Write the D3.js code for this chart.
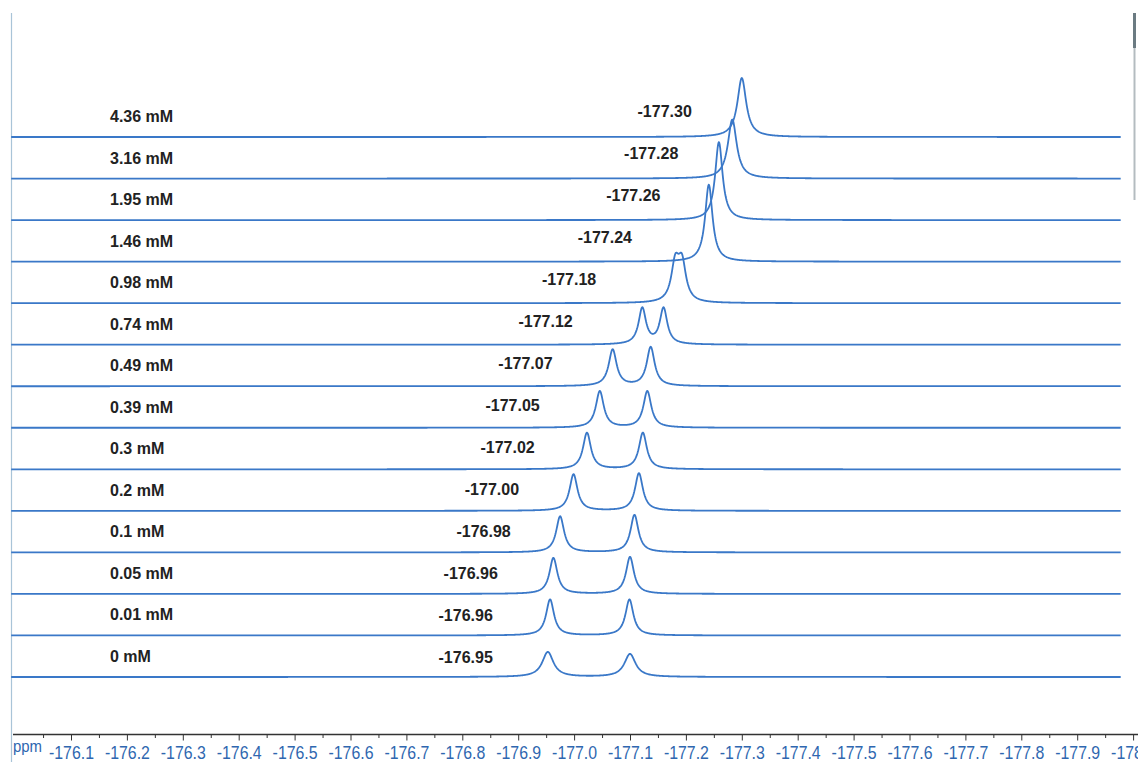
<!DOCTYPE html>
<html>
<head>
<meta charset="utf-8">
<script src="https://cdn.jsdelivr.net/npm/d3@7"></script>
<style>
  html, body { margin: 0; padding: 0; background: #ffffff; }
  svg { display: block; }
</style>
</head>
<body>
<svg id="chart" width="1138" height="762"></svg>
<script>
// ---------------- DATA ----------------
const concentrations = ["4.36 mM","3.16 mM","1.95 mM","1.46 mM","0.98 mM","0.74 mM","0.49 mM","0.39 mM","0.3 mM","0.2 mM","0.1 mM","0.05 mM","0.01 mM","0 mM"];
const shiftLabels    = ["-177.30","-177.28","-177.26","-177.24","-177.18","-177.12","-177.07","-177.05","-177.02","-177.00","-176.98","-176.96","-176.96","-176.95"];
// annotation centre (ppm) of each shift label
const shiftLabelPpm  = [-177.162,-177.138,-177.106,-177.055,-176.991,-176.949,-176.913,-176.890,-176.881,-176.853,-176.838,-176.815,-176.806,-176.806];
// peak 1 (ppm, relative intensity, FWHM ppm)
const peak1Ppm    = [-177.300,-177.283,-177.259,-177.241,-177.181,-177.122,-177.069,-177.046,-177.023,-176.999,-176.975,-176.963,-176.957,-176.953];
const peak1Height = [59, 59, 78, 77, 37, 36, 36.5, 36.5, 36.5, 36.5, 36, 36, 36, 25];
const peak1Width  = [0.019, 0.019, 0.016, 0.016, 0.017, 0.016, 0.017, 0.017, 0.017, 0.017, 0.017, 0.017, 0.017, 0.024];
// peak 2 (null where only one peak is seen)
const peak2Ppm    = [null, null, null, null, -177.193,-177.160,-177.137,-177.131,-177.123,-177.116,-177.108,-177.100,-177.099,-177.100];
const peak2Height = [0, 0, 0, 0, 37, 36, 39, 36.5, 36.5, 37.5, 37.5, 37, 36, 23];
const peak2Width  = [0, 0, 0, 0, 0.017, 0.016, 0.017, 0.017, 0.017, 0.017, 0.017, 0.017, 0.017, 0.024];
// axis ticks
const majorTicks = [-176.1,-176.2,-176.3,-176.4,-176.5,-176.6,-176.7,-176.8,-176.9,-177.0,-177.1,-177.2,-177.3,-177.4,-177.5,-177.6,-177.7,-177.8,-177.9,-178.0];
const minorTicks = [-176.05,-176.15,-176.25,-176.35,-176.45,-176.55,-176.65,-176.75,-176.85,-176.95,-177.05,-177.15,-177.25,-177.35,-177.45,-177.55,-177.65,-177.75,-177.85,-177.95];
const spectrumRange = [-175.993, -177.978];

// ---------------- LAYOUT ----------------
const svg = d3.select("#chart");
const W = 1138, H = 762;
const lineColor = "#3a78c8";
const axisY = 734.5;

const x = d3.scaleLinear().domain([-176.0, -178.0]).range([15.1, 1133.1]);
const baseY = d3.scalePoint().domain(concentrations).range([137, 677]);
const labelY = d3.scalePoint().domain(concentrations).range([117, 663]);
const amp = d3.scaleLinear().domain([0, 100]).range([0, 100]);

function lorentz(ppm, c, h, w) {
  const d = (ppm - c) / (w / 2);
  return h / (1 + d * d);
}

// frame lines
svg.append("line").attr("x1", 11.5).attr("x2", 11.5).attr("y1", 13).attr("y2", H)
  .attr("stroke", "#a9c4d8").attr("stroke-width", 1.2);
svg.append("line").attr("x1", 1134.5).attr("x2", 1134.5).attr("y1", 48).attr("y2", 200)
  .attr("stroke", "#b4bcc0").attr("stroke-width", 2);
svg.append("line").attr("x1", 1134.5).attr("x2", 1134.5).attr("y1", 13).attr("y2", 48)
  .attr("stroke", "#6b7b82").attr("stroke-width", 3);

// spectra
const xs = d3.range(x(spectrumRange[0]), x(spectrumRange[1]) + 0.01, 0.5);
const line = d3.line().x(d => d[0]).y(d => d[1]).curve(d3.curveLinear);

concentrations.forEach((c, i) => {
  const pts = xs.map(px => {
    const ppm = x.invert(px);
    let v = lorentz(ppm, peak1Ppm[i], peak1Height[i], peak1Width[i]);
    if (peak2Ppm[i] !== null) v += lorentz(ppm, peak2Ppm[i], peak2Height[i], peak2Width[i]);
    return [px, baseY(c) - amp(v)];
  });
  svg.append("path").attr("d", line(pts))
    .attr("fill", "none").attr("stroke", lineColor).attr("stroke-width", 1.8)
    .attr("stroke-linejoin", "round");
});

// concentration labels
svg.append("g").selectAll("text").data(concentrations).join("text")
  .attr("x", 110).attr("y", d => baseY(d) - 15)
  .attr("font-family", "Liberation Sans, Arial, sans-serif")
  .attr("font-weight", "bold").attr("font-size", 16).attr("fill", "#222")
  .text(d => d);

// chemical-shift labels
svg.append("g").selectAll("text").data(shiftLabels).join("text")
  .attr("x", (d, i) => x(shiftLabelPpm[i]))
  .attr("y", (d, i) => labelY(concentrations[i]))
  .attr("text-anchor", "middle")
  .attr("font-family", "Liberation Sans, Arial, sans-serif")
  .attr("font-weight", "bold").attr("font-size", 16).attr("fill", "#222")
  .text(d => d);

// axis
const fmt = v => (v < 0 ? "-" : "") + Math.abs(v).toFixed(1);
const gMajor = svg.append("g").attr("transform", `translate(0,${axisY})`)
  .call(d3.axisBottom(x).tickValues(majorTicks).tickFormat(fmt).tickSize(6).tickSizeOuter(0).tickPadding(5));
const gMinor = svg.append("g").attr("transform", `translate(0,${axisY})`)
  .call(d3.axisBottom(x).tickValues(minorTicks).tickFormat("").tickSize(3.5).tickSizeOuter(0));
[gMajor, gMinor].forEach(g => {
  g.select(".domain").remove();
  g.selectAll(".tick line").attr("stroke", "#333");
});
gMajor.selectAll(".tick text")
  .attr("font-family", "Liberation Sans, Arial, sans-serif")
  .attr("font-size", 18.5).attr("fill", "#2f67b0")
  .attr("textLength", 45).attr("lengthAdjust", "spacingAndGlyphs");
svg.append("line").attr("x1", 13).attr("x2", W).attr("y1", axisY).attr("y2", axisY)
  .attr("stroke", "#333").attr("stroke-width", 1.3);
svg.append("text").attr("x", 13).attr("y", 752)
  .attr("font-family", "Liberation Sans, Arial, sans-serif")
  .attr("font-size", 17).attr("fill", "#2f67b0")
  .attr("textLength", 29).attr("lengthAdjust", "spacingAndGlyphs").text("ppm");
</script>
</body>
</html>
